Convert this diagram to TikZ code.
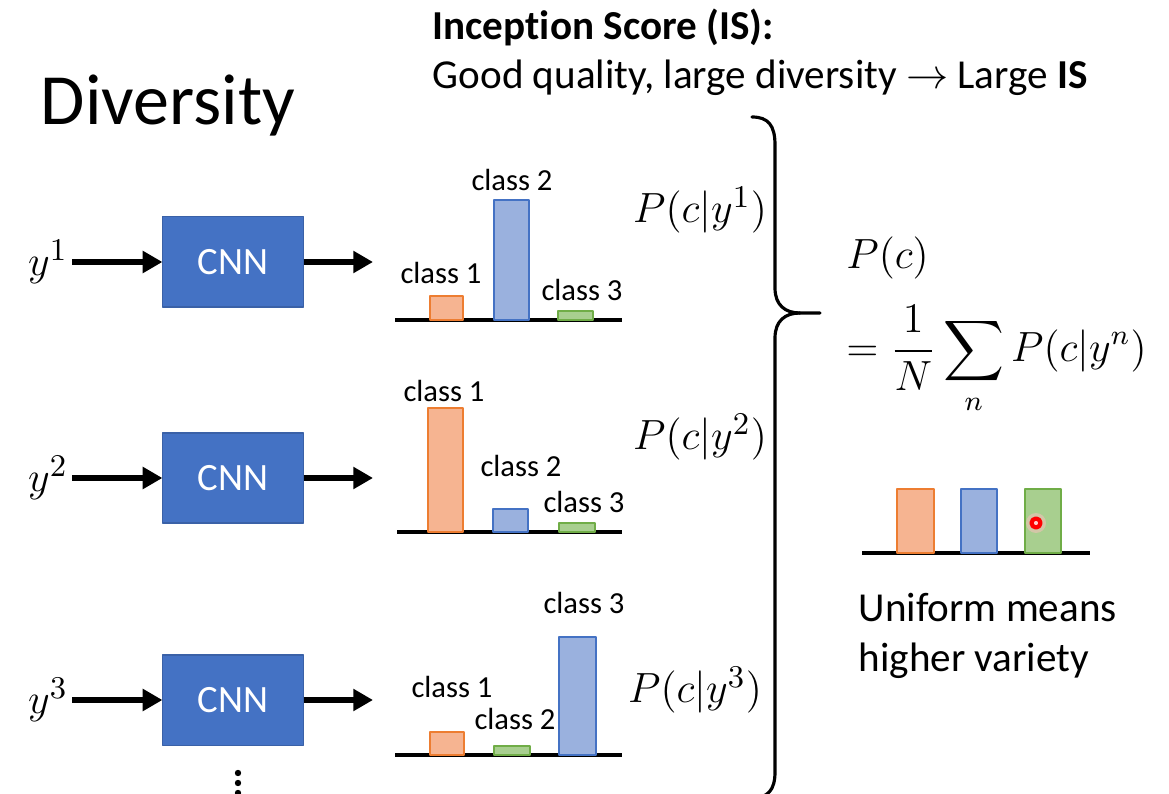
\documentclass[tikz,border=0pt]{standalone}
\usepackage{fontspec}
\setmainfont{Carlito}[Ligatures=NoCommon]
\usepackage{amsmath}
\usepackage{tikz}
\usetikzlibrary{arrows.meta}
\usetikzlibrary{positioning}
\definecolor{cnnblue}{RGB}{68,114,196}
\definecolor{orangeline}{RGB}{237,125,49}
\definecolor{orangefill}{RGB}{246,180,145}
\definecolor{blueline}{RGB}{68,114,196}
\definecolor{bluefill}{RGB}{154,177,222}
\definecolor{greenline}{RGB}{112,173,71}
\definecolor{greenfill}{RGB}{168,207,143}

\begin{document}
\begin{tikzpicture}[line cap=round,line join=round,x=0.01cm,y=-0.01cm,
	cnnbox/.style={fill=cnnblue,draw=cnnblue!85!black,line width=0.3pt,minimum width=1.4cm,minimum height=0.9cm,text=white,font=\fontsize{11}{13}\selectfont},
	pfeil/.style={-{Triangle[length=5.6pt,width=6pt]},line width=1.5pt,line cap=butt},
	classlabel/.style={font=\fontsize{8.7}{10}\selectfont},
	mathlabel/.style={font=\fontsize{12.5}{15}\selectfont},
	textline/.style={anchor=base west,inner sep=0pt,font=\fontsize{11.7}{14}\selectfont},
	axisline/.style={line width=1.2pt,line cap=butt},
	orangebar/.style={fill=orangefill,draw=orangeline,line width=0.35pt},
	bluebar/.style={fill=bluefill,draw=blueline,line width=0.35pt},
	greenbar/.style={fill=greenfill,draw=greenline,line width=0.35pt}]
	\useasboundingbox (0,0) rectangle (1169,794);
	% Ueberschriften
	\node[anchor=base west,inner sep=0pt,font=\fontsize{20.5}{24}\selectfont] (title) at (40,125) {Diversity};
	\node[textline,font=\fontsize{11.7}{14}\selectfont\bfseries] (isline) at (432,40) {Inception Score (IS):};
	\node[textline] (isrule) at (432,89) {Good quality, large diversity $\rightarrow$ Large \textbf{IS}};
	% Eingaben, CNN und Pfeile
	\foreach \i/\yy in {1/262,2/478,3/700}{
		\node[cnnbox] (cnn\i) at (233,\yy) {CNN};
		\node[anchor=east,mathlabel,inner sep=1pt] (y\i) at (72,\yy) {$y^{\i}$};
		\coordinate (out\i) at (373,\yy);
		\draw[pfeil] (y\i) -- (cnn\i);
		\draw[pfeil] (cnn\i) -- (out\i);
	}
	\foreach \d in {773,783,793}
		\fill (238,\d) circle (3.2);
	% Verteilung 1
	\draw[axisline] (395,320) -- (622,320);
	\draw[orangebar] (430,320) rectangle (463,296);
	\draw[bluebar] (494,320) rectangle (529,200);
	\draw[greenbar] (558,320) rectangle (593,311);
	\node[classlabel] (c11) at (441,273) {class 1};
	\node[classlabel] (c12) at (512,180) {class 2};
	\node[classlabel] (c13) at (582,290) {class 3};
	\node[mathlabel] (p1) at (700,210) {$P(c|y^1)$};
	% Verteilung 2
	\draw[axisline] (397,532) -- (622,532);
	\draw[orangebar] (428,532) rectangle (463,408);
	\draw[bluebar] (493,532) rectangle (528,509);
	\draw[greenbar] (559,532) rectangle (595,523);
	\node[classlabel] (c21) at (444,391) {class 1};
	\node[classlabel] (c22) at (521,466) {class 2};
	\node[classlabel] (c23) at (584,502) {class 3};
	\node[mathlabel] (p2) at (700,437) {$P(c|y^2)$};
	% Verteilung 3
	\draw[axisline] (395,755) -- (622,755);
	\draw[orangebar] (430,755) rectangle (464,732);
	\draw[greenbar] (494,755) rectangle (530,746);
	\draw[bluebar] (559,755) rectangle (596,637);
	\node[classlabel] (c33) at (584,603) {class 3};
	\node[classlabel] (c31) at (452,687) {class 1};
	\node[classlabel] (c32) at (515,719) {class 2};
	\node[mathlabel] (p3) at (695,690) {$P(c|y^3)$};
	% Klammer
	\draw[line width=0.9pt] (752,117) .. controls (768,117) and (775,125) .. (775,145) -- (775,288)
		.. controls (775,305) and (785,313) .. (800,313) -- (820,313);
	\draw[line width=0.9pt] (800,313) .. controls (785,313) and (775,321) .. (775,338) -- (775,772)
		.. controls (775,790) and (768,798) .. (752,798);
	% Mittelwert
	\node[mathlabel,anchor=west] (pc) at (834,258) {$P(c)$};
	\node[anchor=west,font=\fontsize{11.6}{14}\selectfont] (mean) at (834,360) {$\displaystyle =\frac{1}{N}\sum_{n} P(c|y^n)$};
	\draw[axisline] (862,553) -- (1090,553);
	\draw[orangebar] (897,553) rectangle (934,489);
	\draw[bluebar] (961,553) rectangle (997,489);
	\draw[greenbar] (1025,553) rectangle (1061,489);
	\fill[red!25,opacity=0.5] (1036,523) circle (10);
	\draw[red,fill=red!20,line width=1.2pt] (1036,523) circle (4.5);
	\node[textline] (uni1) at (858,621) {Uniform means};
	\node[textline] (uni2) at (858,671) {higher variety};
\end{tikzpicture}
\end{document}
